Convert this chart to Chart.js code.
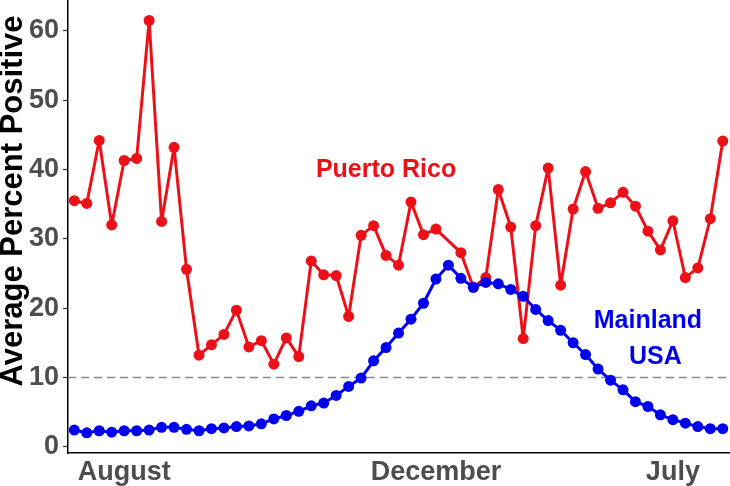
<!DOCTYPE html>
<html>
<head>
<meta charset="utf-8">
<script src="https://cdn.jsdelivr.net/npm/chart.js@4"></script>
<style>
  html, body { margin: 0; padding: 0; background: #fff; }
  #wrap { width: 730px; height: 486px; position: relative; }
</style>
</head>
<body>
<div id="wrap"><canvas id="chart"></canvas></div>
<script>
// weekly average percent positive, one value per week
const puertoRico = [
  35.5, 35.1, 44.2, 32.0, 41.3, 41.6, 61.5, 32.5, 43.2, 25.6,
  13.2, 14.7, 16.2, 19.7, 14.4, 15.3, 11.9, 15.7, 13.0, 26.8,
  24.8, 24.7, 18.8, 30.5, 31.9, 27.6, 26.2, 35.3, 30.6, 31.4,
  null, 28.0, 23.0, 24.4, 37.1, 31.7, 15.6, 31.9, 40.2, 23.3,
  34.3, 39.7, 34.4, 35.2, 36.7, 34.7, 31.1, 28.4, 32.6, 24.4,
  25.8, 32.9, 44.1
];
const mainland = [
  2.4, 2.0, 2.3, 2.1, 2.3, 2.3, 2.4, 2.8, 2.8, 2.5,
  2.3, 2.6, 2.7, 2.9, 3.0, 3.3, 4.0, 4.5, 5.1, 5.9,
  6.3, 7.4, 8.7, 9.9, 12.4, 14.3, 16.4, 18.4, 20.7, 24.2,
  26.2, 24.3, 23.0, 23.7, 23.5, 22.7, 21.7, 19.8, 18.2, 16.8,
  15.0, 13.3, 11.2, 9.6, 8.2, 6.5, 5.8, 4.6, 3.9, 3.4,
  2.9, 2.6, 2.6
];
const threshold = 10;
const monthTickPos = [4, 29, 48];
const monthTickLabels = ['August', 'December', 'July'];
const yTicks = [0, 10, 20, 30, 40, 50, 60];

const xMin = -0.505, xMax = 52.58;
const yMin = -0.91, yMax = 64.46;

const toPoints = (arr) => arr.map((v, i) => ({ x: i, y: v }));

const FONT = '"Liberation Sans", Arial, Helvetica, sans-serif';
const RED = '#ec1118';
const BLUE = '#0000f0';

// text labels placed in data space
const notes = [
  { text: 'Puerto Rico', x: 25.0, y: 39.9, color: RED },
  { text: 'Mainland', x: 46.0, y: 18.1, color: BLUE },
  { text: 'USA', x: 46.6, y: 12.9, color: BLUE }
];

const notesPlugin = {
  id: 'notes',
  afterDatasetsDraw(chart) {
    const { ctx, scales } = chart;
    ctx.save();
    ctx.font = 'bold 25px ' + FONT;
    ctx.textAlign = 'center';
    ctx.textBaseline = 'middle';
    notes.forEach((n) => {
      ctx.fillStyle = n.color;
      ctx.fillText(n.text, scales.x.getPixelForValue(n.x), scales.y.getPixelForValue(n.y));
    });
    // y axis title
    ctx.translate(13, 201);
    ctx.rotate(-Math.PI / 2);
    ctx.fillStyle = '#000';
    ctx.font = 'bold 31px ' + FONT;
    ctx.fillText('Average Percent Positive', 0, 0);
    ctx.restore();
  }
};

const lineStyle = {
  borderWidth: 3,
  pointRadius: 5.5,
  pointBorderWidth: 0,
  borderJoinStyle: 'round',
  borderCapStyle: 'round'
};

new Chart(document.getElementById('chart'), {
  type: 'line',
  data: {
    datasets: [
      Object.assign({
        label: 'Mainland USA',
        data: toPoints(mainland),
        borderColor: BLUE,
        backgroundColor: BLUE,
        order: 1
      }, lineStyle),
      Object.assign({
        label: 'Puerto Rico',
        data: toPoints(puertoRico),
        borderColor: RED,
        backgroundColor: RED,
        spanGaps: true,
        order: 2
      }, lineStyle),
      {
        label: 'threshold',
        data: [{ x: xMin, y: threshold }, { x: xMax, y: threshold }],
        borderColor: '#888888',
        borderWidth: 1.5,
        borderDash: [8, 5],
        pointRadius: 0,
        order: 3
      }
    ]
  },
  options: {
    responsive: true,
    maintainAspectRatio: false,
    animation: false,
    layout: { padding: 0, autoPadding: false },
    plugins: { legend: { display: false }, tooltip: { enabled: false } },
    scales: {
      x: {
        type: 'linear',
        min: xMin,
        max: xMax,
        afterBuildTicks: (s) => { s.ticks = monthTickPos.map((v) => ({ value: v })); },
        afterFit: (s) => { s.height = 33; s.paddingLeft = 0; s.paddingRight = 0; },
        grid: { display: false, drawTicks: false },
        border: { color: '#000', width: 1.5 },
        ticks: {
          padding: 3,
          maxRotation: 0,
          autoSkip: false,
          color: '#4d4d4d',
          font: { family: FONT, size: 27, weight: 'bold' },
          callback: (v) => monthTickLabels[monthTickPos.indexOf(v)]
        }
      },
      y: {
        min: yMin,
        max: yMax,
        afterBuildTicks: (s) => { s.ticks = yTicks.map((v) => ({ value: v })); },
        afterFit: (s) => { s.width = 68; s.paddingTop = 0; s.paddingBottom = 0; },
        grid: { drawOnChartArea: false, tickLength: 5, color: '#333', tickWidth: 1.2 },
        border: { color: '#000', width: 1.5 },
        ticks: {
          padding: 4,
          color: '#4d4d4d',
          font: { family: FONT, size: 27, weight: 'bold' }
        }
      }
    }
  },
  plugins: [notesPlugin]
});
</script>
</body>
</html>
